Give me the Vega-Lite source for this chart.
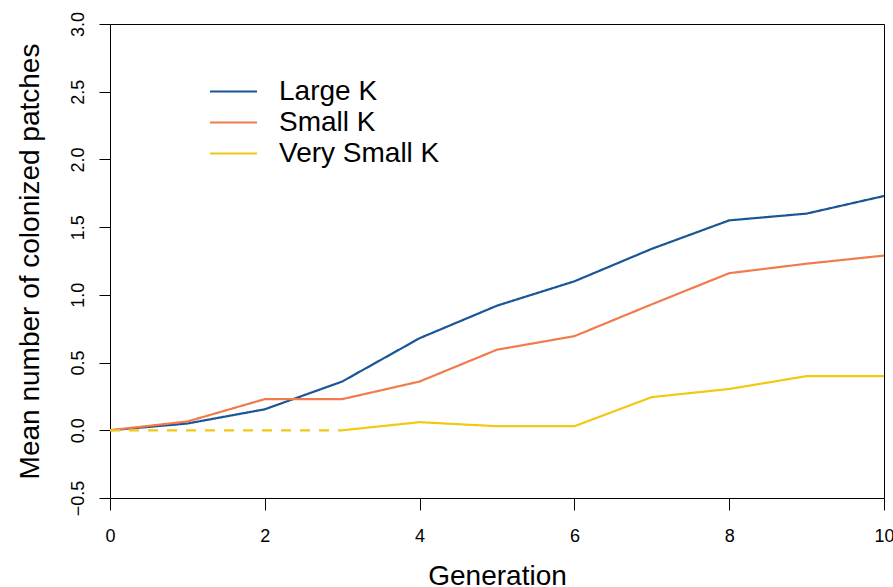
{
  "$schema": "https://vega.github.io/schema/vega-lite/v6.json",
  "width": 774,
  "height": 474,
  "autosize": "none",
  "padding": {"left": 110, "top": 24, "right": 9, "bottom": 89},
  "background": "white",
  "config": {
    "font": "Liberation Sans",
    "view": {"stroke": "black", "strokeWidth": 1}
  },
  "data": {
    "values": [
      {"generation": 0, "value": 0, "series": "Large K", "style": "solid"},
      {"generation": 1, "value": 0.05, "series": "Large K", "style": "solid"},
      {"generation": 2, "value": 0.155, "series": "Large K", "style": "solid"},
      {"generation": 3, "value": 0.36, "series": "Large K", "style": "solid"},
      {"generation": 4, "value": 0.68, "series": "Large K", "style": "solid"},
      {"generation": 5, "value": 0.92, "series": "Large K", "style": "solid"},
      {"generation": 6, "value": 1.10, "series": "Large K", "style": "solid"},
      {"generation": 7, "value": 1.34, "series": "Large K", "style": "solid"},
      {"generation": 8, "value": 1.55, "series": "Large K", "style": "solid"},
      {"generation": 9, "value": 1.60, "series": "Large K", "style": "solid"},
      {"generation": 10, "value": 1.73, "series": "Large K", "style": "solid"},
      {"generation": 0, "value": 0, "series": "Small K", "style": "solid"},
      {"generation": 1, "value": 0.065, "series": "Small K", "style": "solid"},
      {"generation": 2, "value": 0.23, "series": "Small K", "style": "solid"},
      {"generation": 3, "value": 0.23, "series": "Small K", "style": "solid"},
      {"generation": 4, "value": 0.36, "series": "Small K", "style": "solid"},
      {"generation": 5, "value": 0.595, "series": "Small K", "style": "solid"},
      {"generation": 6, "value": 0.695, "series": "Small K", "style": "solid"},
      {"generation": 7, "value": 0.93, "series": "Small K", "style": "solid"},
      {"generation": 8, "value": 1.16, "series": "Small K", "style": "solid"},
      {"generation": 9, "value": 1.23, "series": "Small K", "style": "solid"},
      {"generation": 10, "value": 1.29, "series": "Small K", "style": "solid"},
      {"generation": 0, "value": 0, "series": "Very Small K", "style": "dashed"},
      {"generation": 1, "value": 0, "series": "Very Small K", "style": "dashed"},
      {"generation": 2, "value": 0, "series": "Very Small K", "style": "dashed"},
      {"generation": 3, "value": 0, "series": "Very Small K", "style": "dashed"},
      {"generation": 3, "value": 0, "series": "Very Small K", "style": "solid"},
      {"generation": 4, "value": 0.06, "series": "Very Small K", "style": "solid"},
      {"generation": 5, "value": 0.03, "series": "Very Small K", "style": "solid"},
      {"generation": 6, "value": 0.03, "series": "Very Small K", "style": "solid"},
      {"generation": 7, "value": 0.245, "series": "Very Small K", "style": "solid"},
      {"generation": 8, "value": 0.305, "series": "Very Small K", "style": "solid"},
      {"generation": 9, "value": 0.40, "series": "Very Small K", "style": "solid"},
      {"generation": 10, "value": 0.40, "series": "Very Small K", "style": "solid"}
    ]
  },
  "mark": {"type": "line", "strokeWidth": 2.2, "clip": true},
  "encoding": {
    "x": {
      "field": "generation",
      "type": "quantitative",
      "scale": {"domain": [0, 10], "nice": false, "zero": false},
      "axis": {
        "values": [0, 2, 4, 6, 8, 10],
        "grid": false,
        "domainColor": "black",
        "tickColor": "black",
        "tickSize": 12,
        "labelFontSize": 18,
        "labelColor": "black",
        "labelBaseline": "alphabetic",
        "labelPadding": 31,
        "labelFlush": false,
        "labelOverlap": false,
        "title": "Generation",
        "titleFontSize": 28,
        "titleFontWeight": "normal",
        "titleColor": "black",
        "titleBaseline": "alphabetic",
        "titleY": 86
      }
    },
    "y": {
      "field": "value",
      "type": "quantitative",
      "scale": {"domain": [-0.5, 3], "nice": false, "zero": false},
      "axis": {
        "values": [-0.5, 0, 0.5, 1, 1.5, 2, 2.5, 3],
        "format": ".1f",
        "grid": false,
        "domainColor": "black",
        "tickColor": "black",
        "tickSize": 11,
        "labelFontSize": 18,
        "labelColor": "black",
        "labelAngle": -90,
        "labelAlign": "center",
        "labelBaseline": "alphabetic",
        "labelPadding": 16,
        "labelFlush": false,
        "labelOverlap": false,
        "title": "Mean number of colonized patches",
        "titleFontSize": 28,
        "titleFontWeight": "normal",
        "titleColor": "black",
        "titleAngle": -90,
        "titleBaseline": "alphabetic",
        "titleX": -72
      }
    },
    "color": {
      "field": "series",
      "type": "nominal",
      "scale": {
        "domain": ["Large K", "Small K", "Very Small K"],
        "range": ["#1a5596", "#f07c4c", "#f1c812"]
      },
      "legend": {
        "title": null,
        "orient": "none",
        "legendX": 107,
        "legendY": 51,
        "padding": 0,
        "symbolType": "M-1.57,0H1.57",
        "symbolSize": 900,
        "symbolStrokeWidth": 2.2,
        "symbolFillColor": "transparent",
        "labelFontSize": 28,
        "labelColor": "black",
        "labelOffset": 29,
        "rowPadding": 0,
        "labelLimit": 400
      }
    },
    "strokeDash": {
      "field": "style",
      "type": "nominal",
      "scale": {"domain": ["solid", "dashed"], "range": [[1, 0], [10, 9]]},
      "legend": null
    }
  }
}
